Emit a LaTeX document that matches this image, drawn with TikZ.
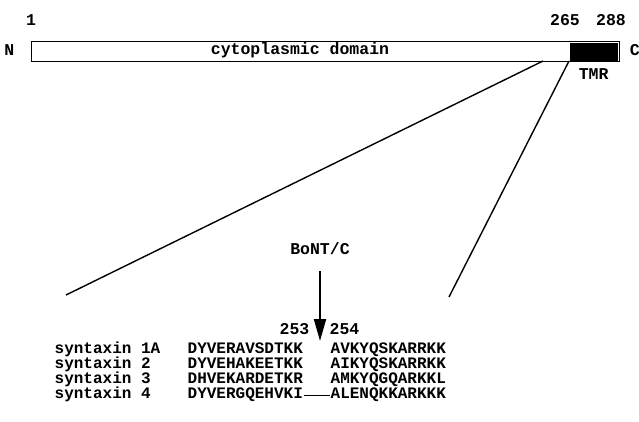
\documentclass[tikz,border=0pt]{standalone}
\usepackage{fontspec}
\setmainfont{Liberation Mono}
\usetikzlibrary{arrows.meta,positioning}

\begin{document}
\begin{tikzpicture}[x=1pt,y=-1pt,on grid,node distance=15pt,line width=1.3pt]
  \tikzstyle{txt} = [font={\fontsize{16.5}{16.5}\selectfont\bfseries}, inner sep=0pt, text height=10pt, text depth=3pt]
  \tikzstyle{seqcol} = [txt, font={\fontsize{16}{16}\selectfont\bfseries}, anchor=west]
  \tikzstyle{cone} = [black, line width=1.4pt]
  \tikzstyle{cleave} = [black, line width=2pt, -{Triangle[width=12pt,length=22pt]}]

  \useasboundingbox (0,0) rectangle (639,422);

  \node[draw, minimum width=588pt, minimum height=20pt, anchor=north west, inner sep=0pt] (bar) at (31,41) {};
  \node[fill=black, minimum width=48pt, minimum height=18pt, inner sep=0pt, anchor=east] (tmr) at ([xshift=-2pt]bar.east) {};
  \node[txt] (cyto) at (300,51) {cytoplasmic domain};
  \node[txt, left=16pt of bar.west] (nterm) {N};
  \node[txt, right=9pt of bar.east] (cterm) {C};
  \node[txt, below=24pt of tmr] (tmrlbl) {TMR};
  \node[txt] (p1) at (31,22) {1};
  \node[txt] (p265) at (565,22) {265};
  \node[txt] (p288) at (611,22) {288};

  \coordinate (cl) at (543,61);
  \coordinate (cr) at (569,61);
  \coordinate (zl) at (66,295);
  \coordinate (zr) at (449,297);
  \draw[cone] (cl) -- (zl);
  \draw[cone] (cr) -- (zr);

  \node[txt] (bont) at (320,251) {BoNT/C};
  \coordinate (cut) at (320,341);
  \draw[cleave, shorten <=13pt] (bont.south) -- (cut);
  \node[txt, anchor=east] (n253) at (310,331) {253};
  \node[txt, anchor=west] (n254) at (329,331) {254};

  \node[seqcol] (s1) at (54,350) {syntaxin 1A};
  \node[seqcol] (s1a) at (187,350) {DYVERAVSDTKK};
  \node[seqcol] (s1b) at (330,350) {AVKYQSKARRKK};
  \node[below=of s1.west, seqcol] (s2) {syntaxin 2};
  \node[below=of s1a.west, seqcol] (s2a) {DYVEHAKEETKK};
  \node[below=of s1b.west, seqcol] (s2b) {AIKYQSKARRKK};
  \node[below=of s2.west, seqcol] (s3) {syntaxin 3};
  \node[below=of s2a.west, seqcol] (s3a) {DHVEKARDETKR};
  \node[below=of s2b.west, seqcol] (s3b) {AMKYQGQARKKL};
  \node[below=of s3.west, seqcol] (s4) {syntaxin 4};
  \node[below=of s3a.west, seqcol] (s4a) {DYVERGQEHVKI};
  \node[below=of s3b.west, seqcol] (s4b) {ALENQKKARKKK};
  \draw[line width=1pt] (s4a.east) -- (s4b.west);
\end{tikzpicture}
\end{document}
